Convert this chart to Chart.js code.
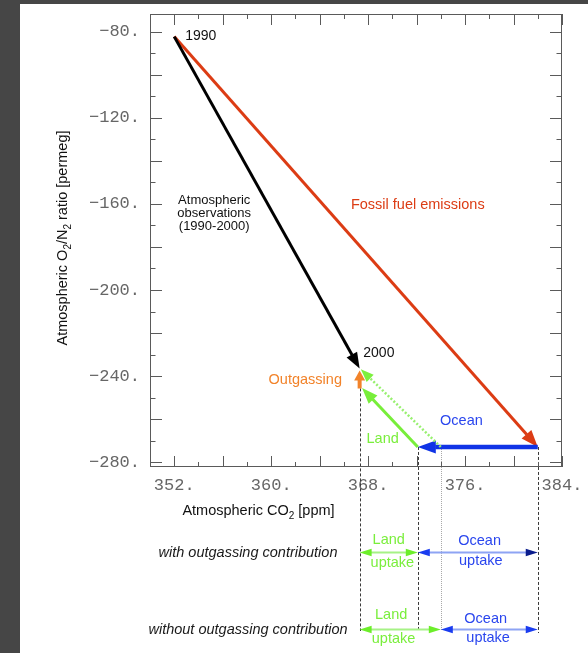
<!DOCTYPE html>
<html>
<head>
<meta charset="utf-8">
<script src="https://cdn.jsdelivr.net/npm/chart.js@4.4.1/dist/chart.umd.min.js"></script>
<style>
  html, body { margin: 0; padding: 0; background: #464646; overflow: hidden; }
  #sheet { position: absolute; left: 20px; top: 4px; width: 568px; height: 649px; background: #ffffff; }
  #chart { position: absolute; left: 0; top: 0; }
</style>
</head>
<body>
<div id="sheet"></div>
<canvas id="chart" width="588" height="653"></canvas>
<script>
// ---- O2/N2 vs CO2 budget, 1990-2000 ----
// End points of each budget vector: [start, end]
const obsCO2 = [352.0, 367.3];        // atmospheric observations, 1990 -> 2000
const obsO2 = [-82.3, -236.5];
const fossilCO2 = [352.0, 382.0];     // fossil fuel emissions
const fossilO2 = [-82.3, -272.9];
const oceanCO2 = [382.0, 372.1];      // ocean uptake
const oceanO2 = [-272.9, -272.9];
const landCO2 = [372.1, 367.5];       // land uptake
const landO2 = [-272.9, -245.5];
const landNoOutCO2 = [374.0, 367.4];  // land uptake ignoring ocean outgassing
const landNoOutO2 = [-272.9, -236.8];
const outgasCO2 = [367.3, 367.3];     // ocean O2 outgassing
const outgasO2 = [-245.7, -237.4];

// Split of the CO2 axis: [land start, land/ocean boundary, ocean end]
const uptakeWithOutgas = [367.3, 372.1, 382.0];
const uptakeWithoutOutgas = [367.3, 374.0, 382.0];

// Axes
const co2Range = [350, 384];
const o2Range = [-282.2, -71.8];
const co2Labels = [352, 360, 368, 376, 384];
const o2Labels = [-80, -120, -160, -200, -240, -280];

const SANS = '"Liberation Sans", Arial, sans-serif';
const MONO = '"Liberation Mono", "DejaVu Sans Mono", monospace';

const pts = (xs, ys) => xs.map((x, i) => ({ x: x, y: ys[i] }));

// Text placed in data coordinates
const annotations = [
  { text: '1990', x: 352.9, y: -81.9, color: '#111', align: 'left', size: 14 },
  { text: 'Atmospheric', x: 355.3, y: -158.2, color: '#111', align: 'center', size: 13 },
  { text: 'observations', x: 355.3, y: -164.4, color: '#111', align: 'center', size: 13 },
  { text: '(1990-2000)', x: 355.3, y: -170.5, color: '#111', align: 'center', size: 13 },
  { text: 'Fossil fuel emissions', x: 372.1, y: -160.5, color: '#dc3c14', align: 'center', size: 14.5 },
  { text: '2000', x: 367.6, y: -229.2, color: '#111', align: 'left', size: 14 },
  { text: 'Outgassing', x: 365.84, y: -241.6, color: '#f2832a', align: 'right', size: 14.5 },
  { text: 'Ocean', x: 375.7, y: -260.8, color: '#2a46ee', align: 'center', size: 14.5 },
  { text: 'Land', x: 369.2, y: -269.3, color: '#7aee3c', align: 'center', size: 14.5 }
];

// The two uptake partition rows under the plot
const uptakeRows = [
  {
    caption: 'with outgassing contribution', bounds: uptakeWithOutgas, y: 552,
    landHeads: ['#6cee2a', '#6cee2a'], oceanHeads: ['#1a3cf0', '#0a1c8c'],
    landText: [[369.7, 539.5], [370.0, 562.5]], oceanText: [[377.2, 540.5], [377.3, 560.5]]
  },
  {
    caption: 'without outgassing contribution', bounds: uptakeWithoutOutgas, y: 629,
    landHeads: ['#6cee2a', '#6cee2a'], oceanHeads: ['#1a3cf0', '#1a3cf0'],
    landText: [[369.9, 615], [370.1, 639]], oceanText: [[377.7, 619], [377.9, 638]]
  }
];

function headPolygon(x0, y0, x1, y1, len, half) {
  const a = Math.atan2(y1 - y0, x1 - x0);
  const c = Math.cos(a), s = Math.sin(a);
  const bx = x1 - c * len, by = y1 - s * len;
  return { c, s, bx, by, tip: [x1, y1],
    left: [bx - s * half, by + c * half], right: [bx + s * half, by - c * half] };
}

function fillHead(ctx, x0, y0, x1, y1, len, half, color) {
  const h = headPolygon(x0, y0, x1, y1, len, half);
  ctx.beginPath();
  ctx.moveTo(h.tip[0], h.tip[1]);
  ctx.lineTo(h.left[0], h.left[1]);
  ctx.lineTo(h.right[0], h.right[1]);
  ctx.closePath();
  ctx.fillStyle = color;
  ctx.fill();
}

// text with subscript parts: [text, isSub]
function richText(ctx, parts, x, y, size, align) {
  const big = size + 'px ' + SANS, small = Math.round(size * 0.7) + 'px ' + SANS;
  let w = 0;
  parts.forEach(p => { ctx.font = p[1] ? small : big; w += ctx.measureText(p[0]).width; });
  let cx = align === 'center' ? x - w / 2 : x;
  ctx.textAlign = 'left';
  ctx.textBaseline = 'alphabetic';
  parts.forEach(p => {
    ctx.font = p[1] ? small : big;
    ctx.fillText(p[0], cx, p[1] ? y + size * 0.3 : y);
    cx += ctx.measureText(p[0]).width;
  });
}

const arrowPlugin = {
  id: 'arrows',
  beforeDatasetDraw(chart, args) {
    const ds = chart.data.datasets[args.index];
    const p = args.meta.data;
    if (!ds.head || p.length < 2) return;
    const a = p[p.length - 2], b = p[p.length - 1];
    const h = headPolygon(a.x, a.y, b.x, b.y, ds.head.len, ds.head.half);
    const ctx = chart.ctx;
    // keep the shaft from poking through the arrow head
    const ext = ds.head.len + 8, wd = ds.head.half + 1;
    ctx.save();
    ctx.beginPath();
    ctx.rect(0, 0, chart.width, chart.height);
    const bx = h.bx + h.c * 0.5, by = h.by + h.s * 0.5;
    ctx.moveTo(bx - h.s * wd, by + h.c * wd);
    ctx.lineTo(bx - h.s * wd + h.c * ext, by + h.c * wd + h.s * ext);
    ctx.lineTo(bx + h.s * wd + h.c * ext, by - h.c * wd + h.s * ext);
    ctx.lineTo(bx + h.s * wd, by - h.c * wd);
    ctx.closePath();
    ctx.clip('evenodd');
  },
  afterDatasetDraw(chart, args) {
    const ds = chart.data.datasets[args.index];
    const p = args.meta.data;
    if (!ds.head || p.length < 2) return;
    chart.ctx.restore();
    const a = p[p.length - 2], b = p[p.length - 1];
    fillHead(chart.ctx, a.x, a.y, b.x, b.y, ds.head.len, ds.head.half, ds.head.color);
  }
};

const framePlugin = {
  id: 'frame',
  beforeDatasetsDraw(chart) {
    const ctx = chart.ctx, xs = chart.scales.x, ys = chart.scales.y;
    // projection lines from the budget vectors down to the uptake rows
    const drops = [
      { x: outgasCO2[0], y: outgasO2[0], end: 631, color: '#3a3a3a', dash: [3, 2] },
      { x: landCO2[0], y: landO2[0], end: 631, color: '#3a3a3a', dash: [3, 2] },
      { x: landNoOutCO2[0], y: landNoOutO2[0], end: 631, color: '#a8a8a8', dash: [1, 1] },
      { x: fossilCO2[1], y: fossilO2[1], end: 633, color: '#3a3a3a', dash: [3, 2] }
    ];
    ctx.save();
    drops.forEach(d => {
      const X = Math.round(xs.getPixelForValue(d.x)) + 0.5;
      ctx.beginPath();
      ctx.setLineDash(d.dash);
      ctx.strokeStyle = d.color;
      ctx.lineWidth = 1;
      ctx.moveTo(X, ys.getPixelForValue(d.y));
      ctx.lineTo(X, d.end);
      ctx.stroke();
    });
    ctx.restore();
  },
  afterDraw(chart) {
    const ctx = chart.ctx, xs = chart.scales.x, ys = chart.scales.y;
    const A = chart.chartArea;
    ctx.save();
    // frame
    ctx.strokeStyle = '#5a5a5a';
    ctx.lineWidth = 1;
    ctx.strokeRect(Math.round(A.left) + 0.5, Math.round(A.top) + 0.5,
      Math.round(A.right - A.left) - 1, Math.round(A.bottom - A.top) - 1);
    // inward ticks on all four sides
    ctx.beginPath();
    for (let v = co2Range[0]; v <= co2Range[1]; v += 2) {
      const X = Math.round(xs.getPixelForValue(v)) + 0.5;
      const L = v % 4 === 0 ? 11 : 5;
      ctx.moveTo(X, A.bottom); ctx.lineTo(X, A.bottom - L);
      ctx.moveTo(X, A.top); ctx.lineTo(X, A.top + L);
    }
    for (let v = -280; v <= -80; v += 10) {
      const Y = Math.round(ys.getPixelForValue(v)) + 0.5;
      const L = v % 20 === 0 ? 12 : 5.5;
      ctx.moveTo(A.left, Y); ctx.lineTo(A.left + L, Y);
      ctx.moveTo(A.right, Y); ctx.lineTo(A.right - L, Y);
    }
    ctx.stroke();

    // annotations
    annotations.forEach(t => {
      ctx.font = t.size + 'px ' + SANS;
      ctx.fillStyle = t.color;
      ctx.textAlign = t.align;
      ctx.textBaseline = 'middle';
      ctx.fillText(t.text, xs.getPixelForValue(t.x), ys.getPixelForValue(t.y));
    });

    // axis titles
    ctx.fillStyle = '#111';
    richText(ctx, [['Atmospheric CO', false], ['2', true], [' [ppm]', false]], 258.5, 515, 14.5, 'center');
    ctx.save();
    ctx.translate(67, 238);
    ctx.rotate(-Math.PI / 2);
    richText(ctx, [['Atmospheric O', false], ['2', true], ['/N', false], ['2', true], [' ratio [permeg]', false]], 0, 0, 14.5, 'center');
    ctx.restore();

    // uptake rows
    uptakeRows.forEach(r => {
      const x0 = xs.getPixelForValue(r.bounds[0]);
      const x1 = xs.getPixelForValue(r.bounds[1]);
      const x2 = xs.getPixelForValue(r.bounds[2]);
      const y = r.y + 0.5;
      ctx.lineWidth = 2;
      ctx.strokeStyle = '#a6f286';
      ctx.beginPath(); ctx.moveTo(x0 + 6, y); ctx.lineTo(x1 - 6, y); ctx.stroke();
      ctx.strokeStyle = '#8ea4f4';
      ctx.beginPath(); ctx.moveTo(x1 + 6, y); ctx.lineTo(x2 - 6, y); ctx.stroke();
      fillHead(ctx, x1, y, x0, y, 12, 3.8, r.landHeads[0]);
      fillHead(ctx, x0, y, x1, y, 12, 3.8, r.landHeads[1]);
      fillHead(ctx, x2, y, x1, y, 12, 3.8, r.oceanHeads[0]);
      fillHead(ctx, x1, y, x2, y, 12, 3.8, r.oceanHeads[1]);

      ctx.font = '14.5px ' + SANS;
      ctx.textAlign = 'center';
      ctx.textBaseline = 'middle';
      ctx.fillStyle = '#7aee3c';
      ctx.fillText('Land', xs.getPixelForValue(r.landText[0][0]), r.landText[0][1]);
      ctx.fillText('uptake', xs.getPixelForValue(r.landText[1][0]), r.landText[1][1]);
      ctx.fillStyle = '#2a46ee';
      ctx.fillText('Ocean', xs.getPixelForValue(r.oceanText[0][0]), r.oceanText[0][1]);
      ctx.fillText('uptake', xs.getPixelForValue(r.oceanText[1][0]), r.oceanText[1][1]);

      ctx.font = 'italic 14.5px ' + SANS;
      ctx.fillStyle = '#1a1a1a';
      ctx.fillText(r.caption, 248, r.y + 1);
    });
    ctx.restore();
  }
};

new Chart(document.getElementById('chart'), {
  type: 'scatter',
  data: {
    datasets: [
      { label: 'Atmospheric observations', data: pts(obsCO2, obsO2), borderColor: '#000000', borderWidth: 3,
        head: { len: 16, half: 6, color: '#000000' } },
      { label: 'Outgassing', data: pts(outgasCO2, outgasO2), borderColor: '#f2832a', borderWidth: 4,
        head: { len: 10, half: 5.5, color: '#f2832a' } },
      { label: 'Land', data: pts(landCO2, landO2), borderColor: '#78ee3a', borderWidth: 3,
        head: { len: 16, half: 6, color: '#78ee3a' } },
      { label: 'Land without outgassing', data: pts(landNoOutCO2, landNoOutO2), borderColor: '#98f070', borderWidth: 2.5,
        borderDash: [2, 2], head: { len: 13, half: 5, color: '#7cf03e' } },
      { label: 'Ocean', data: pts(oceanCO2, oceanO2), borderColor: '#1034e6', borderWidth: 4.5,
        head: { len: 18, half: 6.5, color: '#1034e6' } },
      { label: 'Fossil fuel emissions', data: pts(fossilCO2, fossilO2), borderColor: '#dc3c14', borderWidth: 3,
        head: { len: 17, half: 6.5, color: '#dc3c14' } }
    ].map(d => Object.assign({ showLine: true, pointRadius: 0, pointHoverRadius: 0, borderCapStyle: 'butt', fill: false }, d))
  },
  options: {
    responsive: false,
    animation: false,
    devicePixelRatio: 1,
    layout: { padding: { left: 0, top: 14, right: 26, bottom: 0 } },
    plugins: { legend: { display: false }, tooltip: { enabled: false } },
    events: [],
    scales: {
      x: {
        type: 'linear', position: 'bottom', min: co2Range[0], max: co2Range[1],
        grid: { display: false, drawTicks: false, tickLength: 0 },
        border: { display: false },
        afterBuildTicks: s => {
          const t = [];
          for (let v = co2Range[0]; v <= co2Range[1]; v += 2) t.push({ value: v });
          s.ticks = t;
        },
        afterFit: s => { s.height = 186; s.paddingLeft = 0; s.paddingRight = 0; },
        ticks: {
          autoSkip: false, maxRotation: 0, padding: 8, color: '#666',
          font: { family: MONO, size: 17 },
          callback: v => co2Labels.includes(v) ? v + '.' : ''
        }
      },
      y: {
        type: 'linear', min: o2Range[0], max: o2Range[1],
        grid: { display: false, drawTicks: false, tickLength: 0 },
        border: { display: false },
        afterBuildTicks: s => {
          const t = [];
          for (let v = -280; v <= -80; v += 10) t.push({ value: v });
          s.ticks = t;
        },
        afterFit: s => { s.width = 150; s.paddingTop = 0; s.paddingBottom = 0; },
        ticks: {
          autoSkip: false, padding: 10, color: '#666',
          font: { family: MONO, size: 17 },
          callback: v => o2Labels.includes(v) ? '\u2212' + Math.abs(v) + '.' : ''
        }
      }
    }
  },
  plugins: [framePlugin, arrowPlugin]
});
</script>
</body>
</html>
